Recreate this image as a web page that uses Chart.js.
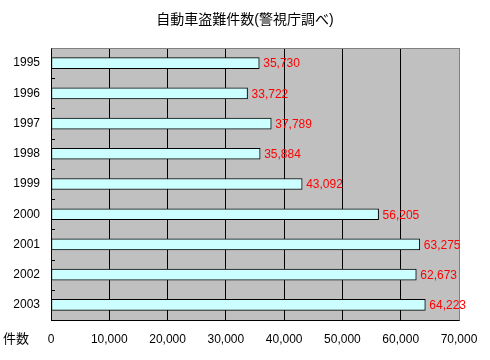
<!DOCTYPE html>
<html><head><meta charset="utf-8">
<script src="https://cdn.jsdelivr.net/npm/chart.js@4/dist/chart.umd.min.js"></script>
<style>html,body{margin:0;padding:0;background:#fff}canvas{display:block}</style>
</head><body>
<canvas id="c" width="490" height="360"></canvas>
<script>
const years = ['1995','1996','1997','1998','1999','2000','2001','2002','2003'];
const thefts = [35730, 33722, 37789, 35884, 43092, 56205, 63275, 62673, 64223];
const xTicks = [0, 10000, 20000, 30000, 40000, 50000, 60000, 70000];
const titleText = '自動車盗難件数(警視庁調べ)';
const unitLabel = '件数';

const FONT = "'Liberation Sans', 'Noto Sans CJK JP', sans-serif";

const bgPlugin = {
  id: 'bg',
  beforeDraw(chart) {
    const {ctx, chartArea: a} = chart;
    ctx.save();
    ctx.fillStyle = '#c0c0c0';
    ctx.fillRect(a.left, a.top, a.right - a.left, a.bottom - a.top);
    ctx.restore();
  },
  afterDraw(chart) {
    const {ctx, chartArea: a, scales} = chart;
    ctx.save();
    // title
    ctx.fillStyle = '#000';
    ctx.font = '14px ' + FONT;
    ctx.textAlign = 'center';
    ctx.textBaseline = 'middle';
    ctx.fillText(titleText, chart.width / 2, 20);
    // gray top and right borders
    ctx.strokeStyle = '#808080';
    ctx.lineWidth = 1;
    ctx.beginPath();
    ctx.moveTo(Math.round(a.left) + 0.5, Math.round(a.top) + 0.5);
    ctx.lineTo(Math.round(a.right) + 0.5, Math.round(a.top) + 0.5);
    ctx.lineTo(Math.round(a.right) + 0.5, Math.round(a.bottom) + 0.5);
    ctx.stroke();
    // small category tick marks inside plot
    const y = scales.y;
    ctx.strokeStyle = '#000';
    ctx.beginPath();
    for (let i = 1; i < years.length; i++) {
      const py = Math.round((y.getPixelForValue(i - 1) + y.getPixelForValue(i)) / 2) + 0.5;
      ctx.moveTo(a.left, py);
      ctx.lineTo(a.left + 4, py);
    }
    ctx.stroke();
    // value labels
    ctx.fillStyle = '#ff0000';
    ctx.font = '12px ' + FONT;
    ctx.textBaseline = 'middle';
    ctx.textAlign = 'left';
    const meta = chart.getDatasetMeta(0);
    meta.data.forEach((bar, i) => {
      ctx.fillText(thefts[i].toLocaleString('en-US'), bar.x + 4, bar.y + 1);
    });
    // unit label
    ctx.fillStyle = '#000';
    ctx.font = '13px ' + FONT;
    ctx.fillText(unitLabel, 3, a.bottom + 19);
    ctx.restore();
  }
};

new Chart(document.getElementById('c'), {
  type: 'bar',
  data: {
    labels: years,
    datasets: [{
      data: thefts,
      backgroundColor: '#ccffff',
      borderColor: '#000',
      borderWidth: 1,
      borderSkipped: false,
      barThickness: 11
    }]
  },
  options: {
    indexAxis: 'y',
    responsive: false,
    animation: false,
    layout: {padding: {left: 0, right: 31, top: 48, bottom: 0}},
    plugins: {
      legend: {display: false},
      tooltip: {enabled: false},
      title: {display: false}
    },
    scales: {
      x: {
        min: 0, max: 70000,
        afterBuildTicks(scale) { scale.ticks = xTicks.map(v => ({value: v})); },
        afterFit(scale) { scale.height = 40; },
        grid: {
          color: ctx => (ctx.tick && ctx.tick.value === 70000) ? '#808080' : '#000',
          lineWidth: 1,
          drawTicks: false
        },
        border: {color: '#000', width: 1},
        ticks: {
          color: '#000',
          padding: 12,
          maxRotation: 0,
          font: {family: FONT, size: 12},
          callback: v => v.toLocaleString('en-US')
        }
      },
      y: {
        afterFit(scale) { scale.width = 51; },
        grid: {display: false, drawTicks: false},
        border: {color: '#000', width: 1},
        ticks: {
          color: '#000',
          padding: 11,
          font: {family: FONT, size: 12}
        }
      }
    }
  },
  plugins: [bgPlugin]
});
</script>
</body></html>
